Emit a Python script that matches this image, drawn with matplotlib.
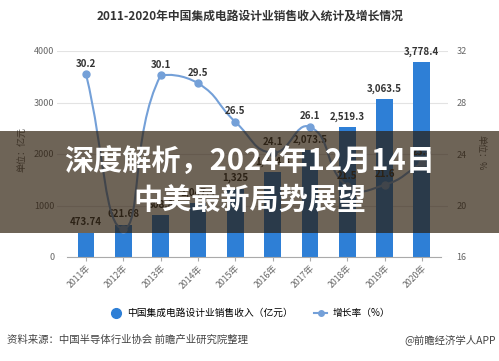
import numpy as np
import matplotlib
matplotlib.use('Agg')
import matplotlib.pyplot as plt
from matplotlib.path import Path
from matplotlib.patches import PathPatch, Rectangle
from matplotlib.lines import Line2D

plt.rcParams['font.family'] = ['Noto Sans CJK SC', 'DejaVu Sans']

years = ['2011年', '2012年', '2013年', '2014年', '2015年',
         '2016年', '2017年', '2018年', '2019年', '2020年']
revenue = [473.74, 621.68, 808.8, 1047.4, 1325, 1644.3, 2073.5, 2519.3, 3063.5, 3778.4]
revenue_labels = ['473.74', '621.68', '808.8', '1,047.4', '1,325', '1,644.3',
                  '2,073.5', '2,519.3', '3,063.5', '3,778.4']
growth = [30.2, 18.2, 30.1, 29.5, 26.5, 24.1, 26.1, 21.5, 21.6, 23.3]
# 2012 label is hidden behind the bar label in the original
growth_labels = ['30.2', '', '30.1', '29.5', '26.5', '24.1', '26.1', '21.5', '21.6', '23.3']

BAR_C = '#2e7fd6'
LINE_C = '#74a0d8'
W, H = 499, 361

fig = plt.figure(figsize=(W / 100, H / 100), dpi=100)
ax = fig.add_axes([57 / W, 1 - 257 / H, 391 / W, 206 / H])
ax2 = ax.twinx()

x = np.arange(len(years))
ax.bar(x, revenue, width=0.45, color=BAR_C, zorder=2)
ax.set_ylim(0, 4000)
ax.set_yticks([0, 1000, 2000, 3000, 4000])
ax.set_xlim(-0.777, 9.70)
ax.grid(axis='y', color='#e3e3e3', lw=0.8, zorder=0)
for s in ['top', 'right', 'left']:
    ax.spines[s].set_visible(False)
ax.spines['bottom'].set_color('#aaaaaa')
ax.spines['bottom'].set_bounds(-0.5, 9.5)
ax.set_xticks(x)
ax.set_xticklabels(years, rotation=45, ha='right', rotation_mode='anchor',
                   fontsize=6.3, color='#666666')
ax.tick_params(axis='x', length=3, color='#aaaaaa', pad=2)
ax.tick_params(axis='y', length=0, labelsize=6.5, labelcolor='#666666', pad=2)
for xi, v, lab in zip(x, revenue, revenue_labels):
    ax.annotate(lab, (xi, v), xytext=(0, 4), textcoords='offset points',
                ha='center', va='bottom', fontsize=7, fontweight='bold',
                color='#333333', zorder=4)

# growth line: smoothed bezier segments (control points clamped to data range)
ax2.set_ylim(16, 32)
ax2.set_yticks([16, 20, 24, 28, 32])
ax2.tick_params(axis='y', length=0, labelsize=6.5, labelcolor='#666666', pad=6)
for s in ['top', 'right', 'left', 'bottom']:
    ax2.spines[s].set_visible(False)

sx, sy = 37.33, 12.875  # rough px per data unit, so smoothing works in screen space
pts = np.column_stack([x * sx, np.array(growth) * sy]).astype(float)
lo, hi = pts.min(axis=0), pts.max(axis=0)
n = len(pts)
cps = []
for i in range(n):
    p = pts[i]
    prev = pts[max(i - 1, 0)]
    nxt = pts[min(i + 1, n - 1)]
    v = (nxt - prev) * 0.5
    d0 = np.hypot(*(p - prev))
    d1 = np.hypot(*(p - nxt))
    tot = d0 + d1
    if tot:
        d0, d1 = d0 / tot, d1 / tot
    c0 = np.clip(p - v * d0, lo, hi)
    c1 = np.clip(p + v * d1, lo, hi)
    cps.append((c0, c1))
verts = [pts[0]]
codes = [Path.MOVETO]
for i in range(n - 1):
    verts += [cps[i][1], cps[i + 1][0], pts[i + 1]]
    codes += [Path.CURVE4] * 3
verts = np.array(verts) / [sx, sy]
ax2.add_patch(PathPatch(Path(verts, codes), fill=False, ec=LINE_C, lw=1.5, zorder=3))
ax2.plot(x, growth, 'o', color=LINE_C, ms=5, zorder=4)
for xi, v, lab in zip(x, growth, growth_labels):
    if lab:
        ax2.annotate(lab, (xi, v), xytext=(0, 4), textcoords='offset points',
                     ha='center', va='bottom', fontsize=7, fontweight='bold',
                     color='#333333', zorder=5)

fig.text(250 / W, 1 - 16 / H, '2011-2020年中国集成电路设计业销售收入统计及增长情况',
         ha='center', va='center', fontsize=8.5, fontweight='bold', color='#333333')
fig.text(22 / W, 1 - 150 / H, '单位：亿元', rotation=90, ha='center', va='center',
         fontsize=6.5, color='#666666')
fig.text(481 / W, 1 - 153 / H, '单位：%', rotation=-90, ha='center', va='center',
         fontsize=6.5, color='#666666')

handles = [Line2D([], [], ls='none', marker='o', ms=7, color=BAR_C),
           Line2D([], [], color=LINE_C, lw=1.5, marker='o', ms=4)]
fig.legend(handles, ['中国集成电路设计业销售收入（亿元）', '增长率（%）'],
           loc='center', bbox_to_anchor=(0.5, 1 - 313 / H), ncol=2, frameon=False,
           fontsize=7, handlelength=1.4, handletextpad=0.5, columnspacing=2.1)

fig.text(7 / W, 1 - 340 / H, '资料来源：中国半导体行业协会 前瞻产业研究院整理',
         ha='left', va='center', fontsize=7.5, color='#444444')
fig.text(496 / W, 1 - 340 / H, '@前瞻经济学人APP',
         ha='right', va='center', fontsize=7.5, color='#444444')

# dark banner over the middle of the chart
band = Rectangle((0, 1 - 233 / H), 1, 102 / H, transform=fig.transFigure,
                 facecolor=(0.16, 0.10, 0.03), alpha=0.68, zorder=10)
fig.patches.append(band)
fig.text(0.5, 1 - 162 / H, '深度解析，2024年12月14日', ha='center', va='center',
         fontsize=21, fontweight='bold', color='white', zorder=11)
fig.text(0.5, 1 - 200 / H, '中美最新局势展望', ha='center', va='center',
         fontsize=21, fontweight='bold', color='white', zorder=11)

fig.savefig('out.png', dpi=100)
